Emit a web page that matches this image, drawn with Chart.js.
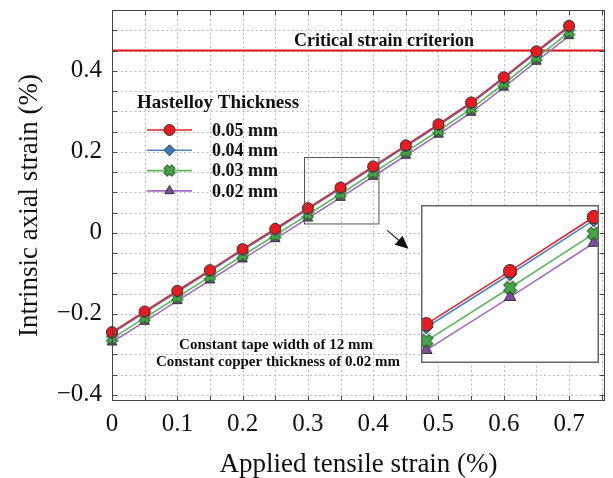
<!DOCTYPE html>
<html>
<head>
<meta charset="utf-8">
<script src="https://cdn.jsdelivr.net/npm/chart.js@4.4.1/dist/chart.umd.min.js"></script>
<style>
body{margin:0;background:#fff;}
#wrap{position:relative;width:613px;height:478px;}
#inset{position:absolute;left:421px;top:205px;}
</style>
</head>
<body>
<div id="wrap">
<canvas id="main" width="613" height="478"></canvas>
<canvas id="inset" width="178" height="158"></canvas>
</div>
<script>
// applied tensile strain (%)
var strainApplied = [0, 0.05, 0.1, 0.15, 0.2, 0.25, 0.3, 0.35, 0.4, 0.45, 0.5, 0.55, 0.6, 0.65, 0.7];
// intrinsic axial strain (%) per hastelloy thickness
var hast005 = [-0.245, -0.194, -0.143, -0.092, -0.040, 0.010, 0.061, 0.112, 0.164, 0.216, 0.268, 0.322, 0.384, 0.448, 0.511];
var hast004 = [-0.248, -0.197, -0.146, -0.095, -0.043, 0.007, 0.058, 0.109, 0.161, 0.213, 0.265, 0.319, 0.381, 0.445, 0.508];
var hast003 = [-0.261, -0.210, -0.159, -0.108, -0.056, -0.006, 0.045, 0.096, 0.148, 0.200, 0.252, 0.306, 0.368, 0.432, 0.495];
var hast002 = [-0.270, -0.219, -0.168, -0.117, -0.065, -0.015, 0.036, 0.087, 0.139, 0.191, 0.243, 0.297, 0.359, 0.423, 0.486];
var seriesNames = ['0.05 mm', '0.04 mm', '0.03 mm', '0.02 mm'];
var criticalStrain = 0.45;

var xRange = [0, 0.755];
var yRange = [-0.415, 0.55];
var gridStep = 0.05;
var xLabelTicks = [0, 0.1, 0.2, 0.3, 0.4, 0.5, 0.6, 0.7];
var yLabelTicks = [-0.4, -0.2, 0, 0.2, 0.4];
// zoomed window
var zoomX = [0.2968, 0.4031];
var zoomY = [0.0237, 0.1755];
var zoomBoxX = [0.294, 0.408];
var zoomBoxY = [0.022, 0.186];

var serif = "'Liberation Serif', 'DejaVu Serif', serif";

function crossImg(size, fill, line){
    var c = document.createElement('canvas');
    c.width = size; c.height = size;
    var g = c.getContext('2d');
    var h = size/2, a = size*0.18, r = size/2 - 1;
    g.translate(h, h);
    g.rotate(Math.PI/4);
    g.beginPath();
    g.moveTo(-a, -r); g.lineTo(a, -r); g.lineTo(a, -a); g.lineTo(r, -a); g.lineTo(r, a);
    g.lineTo(a, a); g.lineTo(a, r); g.lineTo(-a, r); g.lineTo(-a, a); g.lineTo(-r, a);
    g.lineTo(-r, -a); g.lineTo(-a, -a); g.closePath();
    g.fillStyle = fill; g.fill();
    g.lineWidth = 1; g.strokeStyle = line; g.stroke();
    return c;
}

var styles = [
    {line: '#e0262b', fill: '#ea1a20', shape: 'circle', r: 5.5},
    {line: '#4a86c8', fill: '#3b78c2', shape: 'rectRot', r: 5.5},
    {line: '#5cb85c', fill: '#44a644', shape: 'cross', r: 6},
    {line: '#a56cc1', fill: '#7d4ca0', shape: 'triangle', r: 5.5}
];
var seriesData = [hast005, hast004, hast003, hast002];

function pts(vals, x0, x1){
    var out = [];
    for (var i = 0; i < strainApplied.length; i++) {
        if (strainApplied[i] >= x0 && strainApplied[i] <= x1) out.push({x: strainApplied[i], y: vals[i]});
    }
    return out;
}

function makeSets(scaleUp, x0, x1){
    return seriesData.map(function(vals, i){
        var s = styles[i];
        var r = s.r * scaleUp;
        return {
            label: seriesNames[i],
            data: pts(vals, x0, x1),
            borderColor: s.line,
            borderWidth: 1.6,
            backgroundColor: s.fill,
            pointBackgroundColor: s.fill,
            pointBorderColor: '#333',
            pointBorderWidth: 1,
            pointRadius: r,
            pointStyle: s.shape === 'cross' ? crossImg(Math.round(r*2+1), s.fill, '#2d5a2d') : s.shape,
            tension: 0,
            clip: false
        };
    });
}

// tick every grid step inside the range
function stepTicks(scale){
    var lo = Math.ceil(scale.min / gridStep - 1e-9), hi = Math.floor(scale.max / gridStep + 1e-9);
    var t = [];
    for (var k = lo; k <= hi; k++) t.push({value: Math.round(k * gridStep * 1000) / 1000});
    scale.ticks = t;
}

function fmtY(v){
    for (var i = 0; i < yLabelTicks.length; i++) {
        if (Math.abs(yLabelTicks[i] - v) < 1e-6) {
            if (yLabelTicks[i] === 0) return '0';
            return (v < 0 ? '\u2212' : '') + Math.abs(v).toFixed(1);
        }
    }
    return '';
}
function fmtX(v){
    for (var i = 0; i < xLabelTicks.length; i++) {
        if (Math.abs(xLabelTicks[i] - v) < 1e-6) return xLabelTicks[i] === 0 ? '0' : v.toFixed(1);
    }
    return '';
}

var mainSets = makeSets(1, xRange[0], xRange[1]);
mainSets.push({
    label: 'critical',
    data: [{x: xRange[0], y: criticalStrain}, {x: xRange[1], y: criticalStrain}],
    borderColor: '#e3161c',
    borderWidth: 2.2,
    pointRadius: 0,
    clip: false
});

// dotted grid under the data
var dotGrid = {
    id: 'dotGrid',
    beforeDatasetsDraw: function(chart){
        var ctx = chart.ctx, a = chart.chartArea;
        var xs = chart.scales.x, ys = chart.scales.y;
        ctx.save();
        ctx.strokeStyle = '#bcbcbc';
        ctx.lineWidth = 1;
        ctx.setLineDash([2, 2.5]);
        ctx.beginPath();
        xs.ticks.forEach(function(t){
            var p = Math.round(xs.getPixelForValue(t.value)) + 0.5;
            ctx.moveTo(p, a.top); ctx.lineTo(p, a.bottom);
        });
        ys.ticks.forEach(function(t){
            var p = Math.round(ys.getPixelForValue(t.value)) + 0.5;
            ctx.moveTo(a.left, p); ctx.lineTo(a.right, p);
        });
        ctx.stroke();
        ctx.restore();
    }
};

var decor = {
    id: 'decor',
    afterDatasetsDraw: function(chart){
        var ctx = chart.ctx, a = chart.chartArea;
        var xs = chart.scales.x, ys = chart.scales.y;
        ctx.save();
        // frame
        ctx.strokeStyle = '#444';
        ctx.lineWidth = 1;
        ctx.strokeRect(a.left + 0.5, a.top + 0.5, a.right - a.left - 1, a.bottom - a.top - 1);
        // inward ticks on all sides
        ctx.beginPath();
        xs.ticks.forEach(function(t){
            if (t.value <= xRange[0] || t.value >= xRange[1]) return;
            var p = Math.round(xs.getPixelForValue(t.value)) + 0.5;
            ctx.moveTo(p, a.bottom); ctx.lineTo(p, a.bottom - 5);
            ctx.moveTo(p, a.top); ctx.lineTo(p, a.top + 5);
        });
        ys.ticks.forEach(function(t){
            if (t.value <= yRange[0] || t.value >= yRange[1]) return;
            var p = Math.round(ys.getPixelForValue(t.value)) + 0.5;
            ctx.moveTo(a.left, p); ctx.lineTo(a.left + 5, p);
            ctx.moveTo(a.right, p); ctx.lineTo(a.right - 5, p);
        });
        ctx.stroke();

        // zoom window outline
        var bx0 = xs.getPixelForValue(zoomBoxX[0]), bx1 = xs.getPixelForValue(zoomBoxX[1]);
        var by0 = ys.getPixelForValue(zoomBoxY[1]), by1 = ys.getPixelForValue(zoomBoxY[0]);
        ctx.strokeStyle = '#555';
        ctx.lineWidth = 1;
        ctx.strokeRect(Math.round(bx0) + 0.5, Math.round(by0) + 0.5, bx1 - bx0, by1 - by0);

        // arrow towards the inset
        var ax0 = xs.getPixelForValue(0.4215), ay0 = ys.getPixelForValue(0.006);
        var ax1 = xs.getPixelForValue(0.454), ay1 = ys.getPixelForValue(-0.039);
        var ang = Math.atan2(ay1 - ay0, ax1 - ax0);
        ctx.strokeStyle = '#222';
        ctx.fillStyle = '#111';
        ctx.lineWidth = 1.2;
        ctx.beginPath();
        ctx.moveTo(ax0, ay0);
        ctx.lineTo(ax1 - 8*Math.cos(ang), ay1 - 8*Math.sin(ang));
        ctx.stroke();
        ctx.beginPath();
        ctx.moveTo(ax1, ay1);
        ctx.lineTo(ax1 - 13*Math.cos(ang) + 6*Math.sin(ang), ay1 - 13*Math.sin(ang) - 6*Math.cos(ang));
        ctx.lineTo(ax1 - 13*Math.cos(ang) - 6*Math.sin(ang), ay1 - 13*Math.sin(ang) + 6*Math.cos(ang));
        ctx.closePath();
        ctx.fill();

        // text notes
        ctx.fillStyle = '#111';
        ctx.textAlign = 'center';
        ctx.textBaseline = 'middle';
        ctx.font = 'bold 18px ' + serif;
        ctx.fillText('Critical strain criterion', 384, 41);
        ctx.font = 'bold 15px ' + serif;
        ctx.fillText('Constant tape width of 12 mm', 276, 345);
        ctx.fillText('Constant copper thickness of 0.02 mm', 278, 362);

        // legend
        ctx.textAlign = 'left';
        ctx.font = 'bold 19px ' + serif;
        ctx.fillText('Hastelloy Thickness', 137, 103);
        ctx.font = 'bold 18px ' + serif;
        for (var i = 0; i < 4; i++) {
            var ds = chart.data.datasets[i];
            var ly = 130 + i*20.3;
            ctx.strokeStyle = ds.borderColor;
            ctx.lineWidth = 1.6;
            ctx.beginPath();
            ctx.moveTo(147, ly); ctx.lineTo(192, ly);
            ctx.stroke();
            ctx.fillStyle = ds.pointBackgroundColor;
            ctx.strokeStyle = '#333';
            ctx.lineWidth = 1;
            Chart.helpers.drawPoint(ctx, {pointStyle: ds.pointStyle, radius: ds.pointRadius, rotation: 0, borderWidth: 1}, 169.5, ly);
            ctx.fillStyle = '#111';
            ctx.fillText(ds.label, 212, ly + 1);
        }
        ctx.restore();
    }
};

new Chart(document.getElementById('main'), {
    type: 'line',
    data: {datasets: mainSets},
    options: {
        responsive: false,
        animation: false,
        layout: {autoPadding: false, padding: {top: 10, right: 8, bottom: 0, left: 0}},
        plugins: {legend: {display: false}, tooltip: {enabled: false}},
        scales: {
            x: {
                type: 'linear',
                min: xRange[0], max: xRange[1],
                afterBuildTicks: stepTicks,
                afterFit: function(s){ s.height = 77; s.paddingLeft = 0; s.paddingRight = 0; },
                grid: {display: false, drawTicks: false},
                border: {display: false},
                ticks: {autoSkip: false, maxRotation: 0, padding: 8, color: '#111',
                        font: {family: serif, size: 25}, callback: fmtX},
                title: {display: true, text: 'Applied tensile strain (%)', color: '#111',
                        font: {family: serif, size: 27, lineHeight: 1}, padding: {top: 0, bottom: 0}}
            },
            y: {
                min: yRange[0], max: yRange[1],
                afterBuildTicks: stepTicks,
                afterFit: function(s){ s.width = 112; s.paddingTop = 0; s.paddingBottom = 0; },
                grid: {display: false, drawTicks: false},
                border: {display: false},
                ticks: {autoSkip: false, padding: 10, color: '#111',
                        font: {family: serif, size: 25}, callback: fmtY},
                title: {display: true, text: 'Intrinsic axial strain (%)', color: '#111',
                        font: {family: serif, size: 27, lineHeight: 1}, padding: {top: 16, bottom: 0}}
            }
        }
    },
    plugins: [dotGrid, decor]
});

// magnified view
var insetFrame = {
    id: 'insetFrame',
    beforeDraw: function(chart){
        var ctx = chart.ctx;
        ctx.save();
        ctx.fillStyle = '#fff';
        ctx.fillRect(0, 0, chart.width, chart.height);
        ctx.restore();
    },
    afterDraw: function(chart){
        var ctx = chart.ctx;
        ctx.save();
        ctx.strokeStyle = '#666';
        ctx.lineWidth = 1.5;
        ctx.strokeRect(0.75, 0.75, chart.width - 1.5, chart.height - 1.5);
        ctx.restore();
    }
};

new Chart(document.getElementById('inset'), {
    type: 'line',
    data: {datasets: makeSets(1.2, zoomX[0], zoomX[1])},
    options: {
        responsive: false,
        animation: false,
        layout: {autoPadding: false, padding: 0},
        plugins: {legend: {display: false}, tooltip: {enabled: false}},
        scales: {
            x: {type: 'linear', display: false, min: zoomX[0], max: zoomX[1]},
            y: {display: false, min: zoomY[0], max: zoomY[1]}
        }
    },
    plugins: [insetFrame]
});
</script>
</body>
</html>
